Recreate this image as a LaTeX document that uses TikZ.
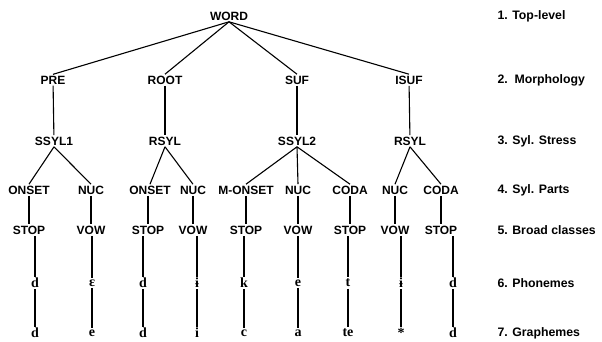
\documentclass[tikz,border=0pt]{standalone}
\usepackage{fontspec}
\setmainfont{Liberation Sans}
\newfontfamily\segfont{Liberation Serif}
\usepackage{tikz}

\begin{document}
\begin{tikzpicture}[x=1pt, y=-1pt, line width=1.1pt, every node/.style={font=\bfseries\fontsize{12}{14}\selectfont, inner sep=1pt}]
    \tikzset{seg/.style={font=\segfont\bfseries\fontsize{14}{16}\selectfont},
             lvl/.style={anchor=west, font=\bfseries\fontsize{12.3}{14}\selectfont}}
    \useasboundingbox (0,0) rectangle (602,341);

    % Top-level
    \node (word) at (229,16) {WORD};

    % Morphology
    \node (pre) at (53,80) {PRE};
    \node (root) at (165,80) {ROOT};
    \node (suf) at (297,80) {SUF};
    \node (isuf) at (409,80) {ISUF};

    % Syllable stress
    \node (ssyl1) at (54,141) {SSYL1};
    \node (rsyl1) at (165,141) {RSYL};
    \node (ssyl2) at (297,141) {SSYL2};
    \node (rsyl2) at (410,141) {RSYL};

    % Syllable parts
    \node (on1) at (29,190) {ONSET};
    \node (nuc1) at (91,190) {NUC};
    \node (on2) at (150,190) {ONSET};
    \node (nuc2) at (193,190) {NUC};
    \node (mon) at (246,190) {M-ONSET};
    \node (nuc3) at (298,190) {NUC};
    \node (coda1) at (350,190) {CODA};
    \node (nuc4) at (395,190) {NUC};
    \node (coda2) at (441,190) {CODA};

    % Broad classes
    \node (st1) at (29,230) {STOP};
    \node (vw1) at (91,230) {VOW};
    \node (st2) at (148,230) {STOP};
    \node (vw2) at (193,230) {VOW};
    \node (st3) at (246,230) {STOP};
    \node (vw3) at (298,230) {VOW};
    \node (st4) at (350,230) {STOP};
    \node (vw4) at (395,230) {VOW};
    \node (st5) at (441,230) {STOP};

    % Phonemes
    \node[seg] (ph1) at (35,283) {d};
    \node[seg] (ph2) at (92,283) {ɛ};
    \node[seg] (ph3) at (143,283) {d};
    \node[seg] (ph4) at (197,283) {ɨ};
    \node[seg] (ph5) at (244,283) {k};
    \node[seg] (ph6) at (298,283) {e};
    \node[seg] (ph7) at (348,283) {t};
    \node[seg] (ph8) at (401,283) {ɨ};
    \node[seg] (ph9) at (453,283) {d};

    % Graphemes
    \node[seg] (gr1) at (35,333) {d};
    \node[seg] (gr2) at (92,333) {e};
    \node[seg] (gr3) at (143,333) {d};
    \node[seg] (gr4) at (197,333) {i};
    \node[seg] (gr5) at (244,333) {c};
    \node[seg] (gr6) at (298,333) {a};
    \node[seg] (gr7) at (348,333) {te};
    \node[seg] (gr8) at (401,333) {*};
    \node[seg] (gr9) at (453,333) {d};

    % Level names
    \node[lvl] (l1) at (496,16) {1. Top-level};
    \node[lvl] (l2) at (496,80) {2.\ \ Morphology};
    \node[lvl] (l3) at (496,141) {3. Syl. Stress};
    \node[lvl] (l4) at (496,190) {4. Syl. Parts};
    \node[lvl] (l5) at (496,230) {5. Broad classes};
    \node[lvl] (l6) at (496,283) {6. Phonemes};
    \node[lvl] (l7) at (496,333) {7. Graphemes};

    % Branches
    \draw (word.south) -- (pre.north);
    \draw (word.south) -- (root.north);
    \draw (word.south) -- (suf.north);
    \draw (word.south) -- (isuf.north);
    \draw (pre) -- (ssyl1);
    \draw (root) -- (rsyl1);
    \draw (suf) -- (ssyl2);
    \draw (isuf) -- (rsyl2);
    \draw (ssyl1.south) -- (on1.north);
    \draw (ssyl1.south) -- (nuc1.north);
    \draw (rsyl1.south) -- (on2.north);
    \draw (rsyl1.south) -- (nuc2.north);
    \draw (ssyl2.south) -- (mon.north);
    \draw (ssyl2.south) -- (nuc3.north);
    \draw (ssyl2.south) -- (coda1.north);
    \draw (rsyl2.south) -- (nuc4.north);
    \draw (rsyl2.south) -- (coda2.north);

    % Vertical links
    \draw (on1) -- (st1);
    \draw (nuc1) -- (vw1);
    \draw (on2.south -| st2) -- (st2);
    \draw (nuc2) -- (vw2);
    \draw (mon) -- (st3);
    \draw (nuc3) -- (vw3);
    \draw (coda1) -- (st4);
    \draw (nuc4) -- (vw4);
    \draw (coda2) -- (st5);
    \draw (st1.south -| ph1) -- (ph1);
    \draw (vw1.south -| ph2) -- (ph2);
    \draw (st2.south -| ph3) -- (ph3);
    \draw (vw2.south -| ph4) -- (ph4);
    \draw (st3.south -| ph5) -- (ph5);
    \draw (vw3.south -| ph6) -- (ph6);
    \draw (st4.south -| ph7) -- (ph7);
    \draw (vw4.south -| ph8) -- (ph8);
    \draw (st5.south -| ph9) -- (ph9);
    \draw (ph1) -- (gr1);
    \draw (ph2) -- (gr2);
    \draw (ph3) -- (gr3);
    \draw (ph4) -- (gr4);
    \draw (ph5) -- (gr5);
    \draw (ph6) -- (gr6);
    \draw (ph7) -- (gr7);
    \draw (ph8) -- (gr8);
    \draw (ph9) -- (gr9);
\end{tikzpicture}
\end{document}
